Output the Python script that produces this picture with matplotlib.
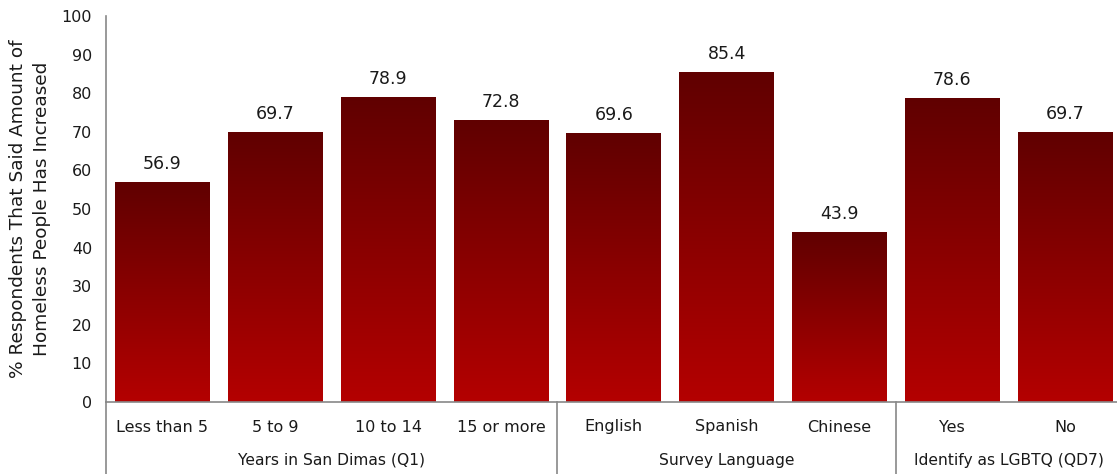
import numpy as np
import matplotlib.pyplot as plt
from matplotlib.colors import LinearSegmentedColormap
from matplotlib.transforms import blended_transform_factory

# survey results, % who said homelessness has increased
categories = ["Less than 5", "5 to 9", "10 to 14", "15 or more",
              "English", "Spanish", "Chinese", "Yes", "No"]
values = [56.9, 69.7, 78.9, 72.8, 69.6, 85.4, 43.9, 78.6, 69.7]
groups = ["Years in San Dimas (Q1)", "Survey Language", "Identify as LGBTQ (QD7)"]
group_sizes = [4, 3, 2]

plt.rcParams['font.family'] = ['DejaVu Sans']

fig = plt.figure(figsize=(11.17, 4.74), dpi=100)
ax = fig.add_axes([106 / 1117, 72 / 474, 1011 / 1117, 386 / 474])

cmap = LinearSegmentedColormap.from_list("redgrad", ["#600000", "#b40000"])
grad = np.linspace(0, 1, 256).reshape(-1, 1)

width = 0.84
x = np.arange(len(categories))
bars = ax.bar(x, values, width=width, color="#b00000", zorder=1)
for b, v in zip(bars, values):
    x0 = b.get_x()
    # vertical gradient, dark at top
    ax.imshow(grad, cmap=cmap, aspect='auto', interpolation='bilinear',
              extent=[x0, x0 + width, 0, v], zorder=2)
    ax.text(b.get_x() + width / 2, v + 2.5, f"{v:.1f}", ha='center', va='bottom',
            fontsize=12.5, color="#1a1a1a")

ax.set_xlim(-0.5, 8.46)
ax.set_ylim(0, 100)
ax.set_yticks(range(0, 101, 10))
ax.tick_params(axis='y', length=0, pad=10, labelsize=11.5, labelcolor="#1a1a1a")
ax.set_xticks([])

for s in ['top', 'right']:
    ax.spines[s].set_visible(False)
ax.spines['left'].set_color("#888888")
ax.spines['bottom'].set_color("#888888")
ax.spines['left'].set_linewidth(1.2)
ax.spines['bottom'].set_linewidth(1.2)

ax.set_ylabel("% Respondents That Said Amount of\nHomeless People Has Increased",
              fontsize=13.3, color="#1a1a1a", linespacing=1.4, va='center')
ax.yaxis.set_label_coords(-76 / 1011, 0.5)

trans = blended_transform_factory(ax.transData, ax.transAxes)
# category labels under the bars
for xi, c in zip(x, categories):
    ax.text(xi, -25 / 386, c, transform=trans, ha='center', va='center',
            fontsize=11.5, color="#1a1a1a")

# group labels and dividers
start = 0
lower = -72 / 386
ax.plot([-0.5, -0.5], [0, lower], transform=trans, color="#888888", lw=1.2,
        clip_on=False)
for g, n in zip(groups, group_sizes):
    mid = start + (n - 1) / 2
    ax.text(mid, -58 / 386, g, transform=trans, ha='center', va='center',
            fontsize=11.2, color="#1a1a1a")
    end = start + n - 0.5
    if end < len(categories) - 0.5:
        ax.plot([end, end], [0, lower], transform=trans, color="#888888", lw=1.2,
                clip_on=False)
    start += n

fig.savefig("out.png", dpi=100)
